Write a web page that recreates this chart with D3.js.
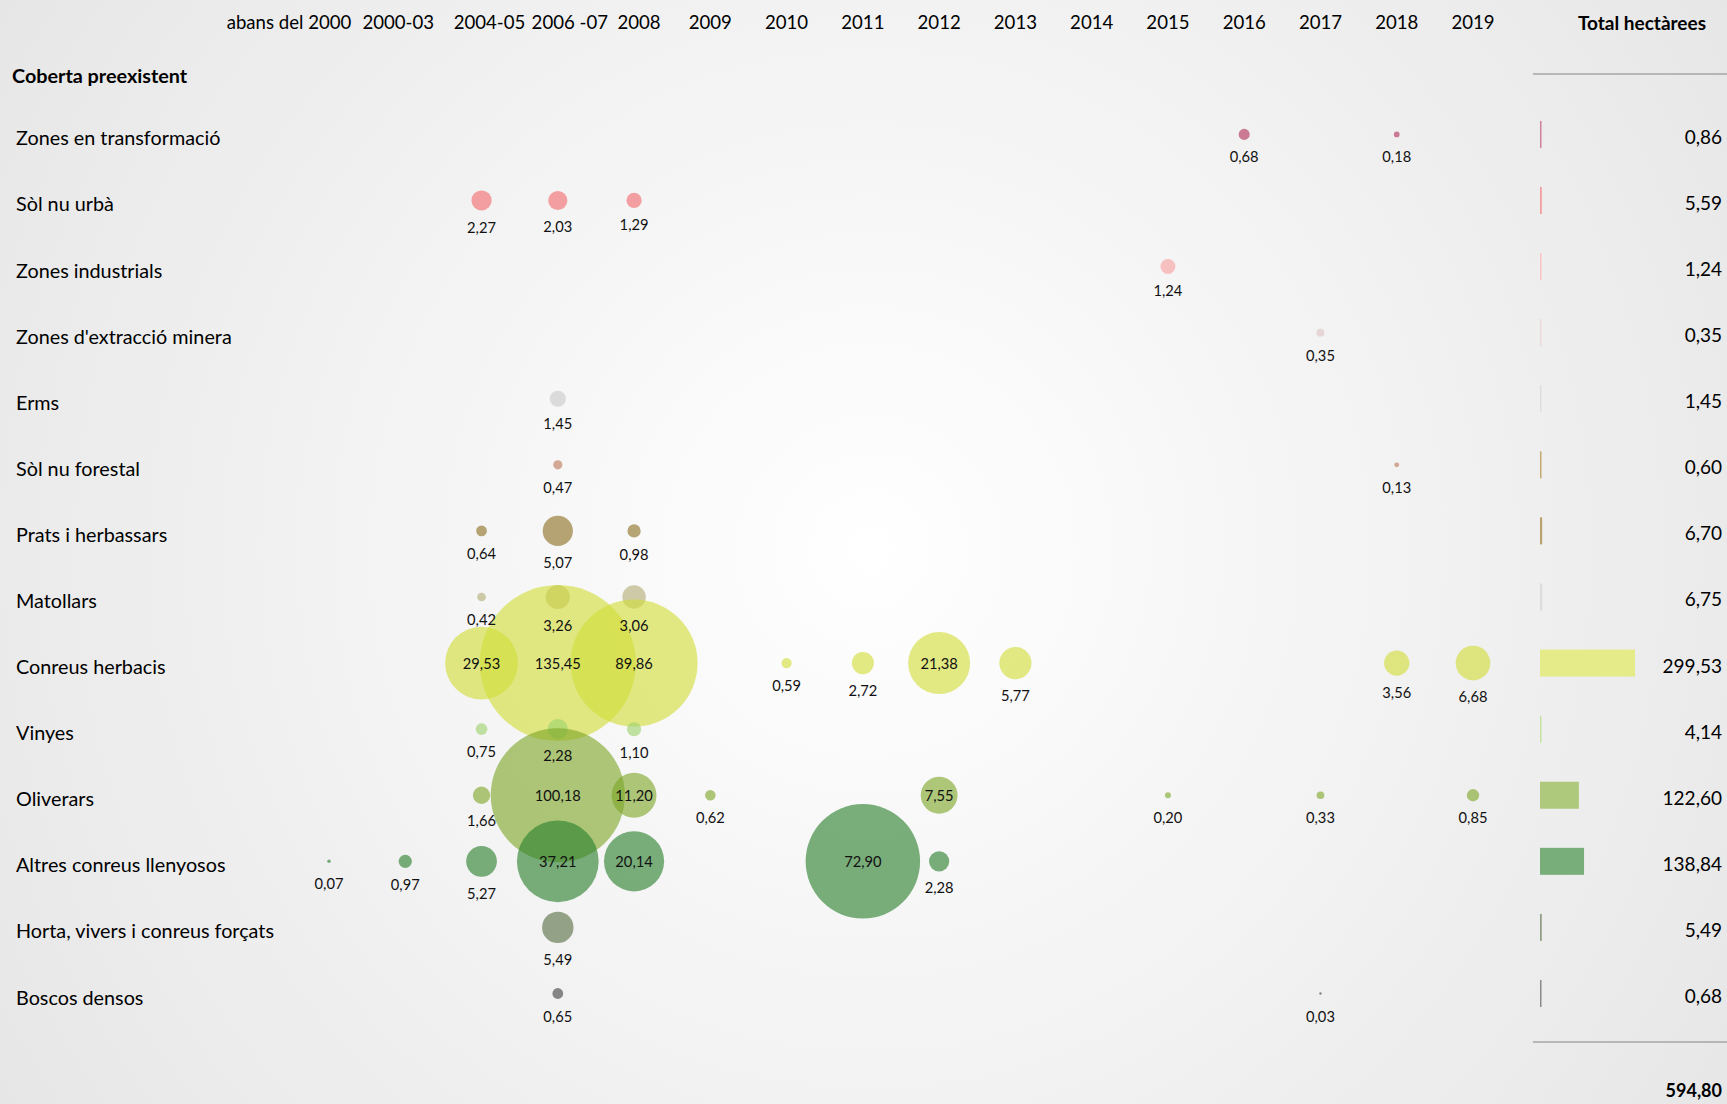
<!DOCTYPE html>
<html>
<head>
<meta charset="utf-8">
<script src="https://cdn.jsdelivr.net/npm/d3@7"></script>
<style>
  body { margin: 0; overflow: hidden; }
  svg { display: block; font-family: Lato, "Open Sans", sans-serif; }
</style>
</head>
<body>
<div class="chart"></div>
<script>
const width = 1727;
const height = 1104;

// periods (columns)
const periods = ["abans del 2000", "2000-03", "2004-05", "2006 -07", "2008", "2009", "2010",
  "2011", "2012", "2013", "2014", "2015", "2016", "2017", "2018", "2019"];

// land cover before (rows)
const covers = ["Zones en transformació", "Sòl nu urbà", "Zones industrials",
  "Zones d'extracció minera", "Erms", "Sòl nu forestal", "Prats i herbassars", "Matollars",
  "Conreus herbacis", "Vinyes", "Oliverars", "Altres conreus llenyosos",
  "Horta, vivers i conreus forçats", "Boscos densos"];

// hectares per cover and period (null = nothing)
const _ = null;
const hectares = [
  [_, _, _, _, _, _, _, _, _, _, _, _, 0.68, _, 0.18, _],
  [_, _, 2.27, 2.03, 1.29, _, _, _, _, _, _, _, _, _, _, _],
  [_, _, _, _, _, _, _, _, _, _, _, 1.24, _, _, _, _],
  [_, _, _, _, _, _, _, _, _, _, _, _, _, 0.35, _, _],
  [_, _, _, 1.45, _, _, _, _, _, _, _, _, _, _, _, _],
  [_, _, _, 0.47, _, _, _, _, _, _, _, _, _, _, 0.13, _],
  [_, _, 0.64, 5.07, 0.98, _, _, _, _, _, _, _, _, _, _, _],
  [_, _, 0.42, 3.26, 3.06, _, _, _, _, _, _, _, _, _, _, _],
  [_, _, 29.53, 135.45, 89.86, _, 0.59, 2.72, 21.38, 5.77, _, _, _, _, 3.56, 6.68],
  [_, _, 0.75, 2.28, 1.10, _, _, _, _, _, _, _, _, _, _, _],
  [_, _, 1.66, 100.18, 11.20, 0.62, _, _, 7.55, _, _, 0.20, _, 0.33, _, 0.85],
  [0.07, 0.97, 5.27, 37.21, 20.14, _, _, 72.90, 2.28, _, _, _, _, _, _, _],
  [_, _, _, 5.49, _, _, _, _, _, _, _, _, _, _, _, _],
  [_, _, _, 0.65, _, _, _, _, _, _, _, _, _, 0.03, _, _],
];

const totals = [0.86, 5.59, 1.24, 0.35, 1.45, 0.60, 6.70, 6.75, 299.53, 4.14, 122.60, 138.84, 5.49, 0.68];
const grandTotal = 594.80;

// colours as seen on white
const colors = ["#cf8098", "#f7a2a4", "#fbc4c4", "#eadada", "#dedede", "#d6ab98", "#b8a677",
  "#d0ccaa", "#e3ea84", "#c2e3a4", "#afc87a", "#7bb07c", "#97a58b", "#8a8a8a"];
const barColors = ["#cf8098", "#f59c9e", "#fbc4c4", "#eadada", "#dedede", "#c4aa70", "#b8a16a",
  "#dcdcdc", "#e4eb88", "#c5e3a0", "#aec97c", "#78ae7a", "#8f9f85", "#8a8a8a"];

const alpha = 0.62;
// solid colour that gives the seen colour on white with the given alpha
const solid = (c) => {
  const o = d3.rgb(c);
  const f = (v) => Math.max(0, Math.min(255, (v - 255 * (1 - alpha)) / alpha));
  return d3.rgb(f(o.r), f(o.g), f(o.b)).formatHex();
};

const fmt = (v) => v.toFixed(2).replace(".", ",");

const svg = d3.select(".chart").append("svg")
  .attr("width", width)
  .attr("height", height);

const defs = svg.append("defs");
const grad = defs.append("radialGradient")
  .attr("id", "bg")
  .attr("gradientUnits", "userSpaceOnUse")
  .attr("cx", 870).attr("cy", 550).attr("r", 1050);
grad.append("stop").attr("offset", "0%").attr("stop-color", "#ffffff");
grad.append("stop").attr("offset", "100%").attr("stop-color", "#e6e6e6");

svg.append("rect")
  .attr("width", width).attr("height", height)
  .attr("fill", "url(#bg)");

const xScale = d3.scalePoint().domain(periods).range([329, 1473]);
const yScale = d3.scalePoint().domain(covers).range([134.4, 993.5]);
const rScale = d3.scaleSqrt().domain([0, 135.45]).range([0, 78]);
const barScale = d3.scaleLinear().domain([0, 299.53]).range([0, 95]);

// header
const headerShift = [-40, -7, 8, 12, 5];
svg.append("g")
  .selectAll("text")
  .data(periods)
  .join("text")
  .attr("x", (d, i) => xScale(d) + (headerShift[i] || 0))
  .attr("y", 22)
  .attr("text-anchor", "middle")
  .attr("dominant-baseline", "central")
  .style("font-size", "18.6px")
  .text((d) => d);

svg.append("text")
  .attr("x", 1706).attr("y", 22)
  .attr("text-anchor", "end")
  .attr("dominant-baseline", "central")
  .style("font-size", "19px")
  .style("font-weight", "bold")
  .text("Total hectàrees");

svg.append("text")
  .attr("x", 12).attr("y", 75)
  .attr("dominant-baseline", "central")
  .style("font-size", "19.8px")
  .style("font-weight", "bold")
  .text("Coberta preexistent");

// row labels
svg.append("g")
  .selectAll("text")
  .data(covers)
  .join("text")
  .attr("x", 16)
  .attr("y", (d) => yScale(d) + 3)
  .attr("dominant-baseline", "central")
  .style("font-size", "19.8px")
  .text((d) => d);

// bubbles
const points = [];
hectares.forEach((row, i) => {
  row.forEach((v, j) => {
    if (v !== null) points.push({ cover: covers[i], period: periods[j], value: v, row: i });
  });
});

svg.append("g")
  .selectAll("circle")
  .data(points)
  .join("circle")
  .attr("cx", (d) => xScale(d.period))
  .attr("cy", (d) => yScale(d.cover))
  .attr("r", (d) => Math.max(rScale(d.value), 1.2))
  .attr("fill", (d) => solid(colors[d.row]))
  .attr("fill-opacity", alpha);

svg.append("g")
  .selectAll("text")
  .data(points)
  .join("text")
  .attr("x", (d) => xScale(d.period))
  .attr("y", (d) => {
    const cy = yScale(d.cover);
    return d.value >= 7 ? cy : cy + Math.max(rScale(d.value), 6) + 16;
  })
  .attr("text-anchor", "middle")
  .attr("dominant-baseline", "central")
  .style("font-size", "14.7px")
  .attr("fill", "#111")
  .text((d) => fmt(d.value));

// totals column
svg.append("g")
  .selectAll("rect")
  .data(totals)
  .join("rect")
  .attr("x", 1540)
  .attr("y", (d, i) => yScale(covers[i]) - 13.5)
  .attr("width", (d) => Math.max(barScale(d), 1.5))
  .attr("height", 27)
  .attr("fill", (d, i) => barColors[i]);

svg.append("g")
  .selectAll("text")
  .data(totals)
  .join("text")
  .attr("x", 1722)
  .attr("y", (d, i) => yScale(covers[i]) + 2)
  .attr("text-anchor", "end")
  .attr("dominant-baseline", "central")
  .style("font-size", "19px")
  .text((d) => fmt(d));

svg.append("g")
  .selectAll("line")
  .data([74, 1042])
  .join("line")
  .attr("x1", 1533).attr("x2", width)
  .attr("y1", (d) => d).attr("y2", (d) => d)
  .attr("stroke", "#a6a6a6")
  .attr("stroke-width", 1.5);

svg.append("text")
  .attr("x", 1722).attr("y", 1090)
  .attr("text-anchor", "end")
  .attr("dominant-baseline", "central")
  .style("font-size", "18px")
  .style("font-weight", "bold")
  .text(fmt(grandTotal));
</script>
</body>
</html>
